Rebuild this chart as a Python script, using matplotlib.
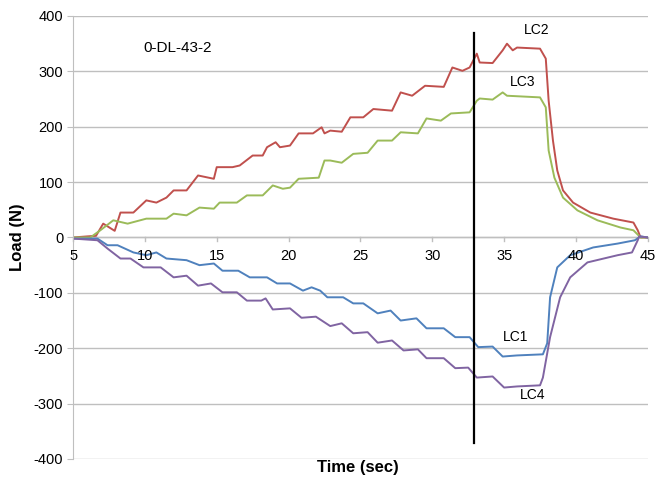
import matplotlib.pyplot as plt

plt.rcParams['axes.unicode_minus'] = False

# LC2 (red)
lc2_t = [5.0, 6.0, 6.6, 7.1, 7.9, 8.3, 9.2, 10.1, 10.8, 11.5, 12.0, 12.9, 13.7, 14.8, 15.0,
         16.1, 16.6, 17.5, 18.2, 18.5, 19.1, 19.4, 20.1, 20.7, 21.7, 22.3, 22.5, 22.9, 23.7,
         24.3, 25.2, 25.9, 27.2, 27.8, 28.6, 29.5, 30.8, 31.4, 32.1, 32.6, 33.1, 33.3, 34.2,
         34.9, 35.2, 35.6, 35.9, 37.5, 37.9, 38.1, 38.4, 38.7, 39.1, 39.8, 41.0, 42.6, 44.0,
         44.3, 44.5, 45.0]
lc2_v = [0, 2, 3, 25, 12, 45, 45, 67, 63, 72, 85, 85, 112, 106, 127,
         127, 130, 148, 148, 163, 172, 163, 166, 188, 188, 199, 188, 193, 191,
         217, 217, 232, 229, 262, 256, 274, 272, 307, 301, 307, 332, 316, 315,
         338, 350, 338, 343, 341, 323, 247, 175, 121, 85, 63, 45, 34, 27,
         13, 0, 0]

# LC3 (green)
lc3_t = [5.0, 6.2, 6.9, 7.8, 8.8, 10.1, 11.5, 12.0, 12.9, 13.8, 14.8, 15.2, 16.4, 17.1,
         18.2, 18.9, 19.6, 20.1, 20.7, 22.1, 22.5, 22.9, 23.7, 24.5, 25.5, 26.2, 27.2, 27.8,
         29.0, 29.6, 30.6, 31.3, 32.6, 33.1, 33.3, 34.2, 34.9, 35.2, 37.5, 37.9, 38.1, 38.5,
         39.1, 40.1, 41.5, 43.1, 44.0, 44.5, 45.0]
lc3_v = [0, 0, 13, 31, 25, 34, 34, 43, 40, 54, 52, 63, 63, 76,
         76, 94, 88, 90, 106, 108, 139, 139, 135, 151, 153, 175, 175, 190,
         188, 215, 211, 224, 226, 247, 251, 249, 262, 256, 253, 235, 157, 108,
         72, 49, 31, 18, 13, 0, 0]

# LC1 (blue)
lc1_t = [5.0, 6.7, 7.4, 8.1, 9.2, 10.1, 10.8, 11.5, 12.9, 13.8, 14.8, 15.4, 16.5, 17.3,
         18.5, 19.2, 20.1, 21.0, 21.6, 22.2, 22.7, 23.8, 24.5, 25.2, 26.2, 27.1, 27.8, 28.9,
         29.6, 30.8, 31.6, 32.6, 33.2, 34.2, 34.9, 35.9, 37.7, 38.0, 38.2, 38.7, 39.6, 41.2,
         42.9, 44.1, 44.5, 45.0]
lc1_v = [-2, -2, -14, -14, -27, -32, -27, -38, -41, -50, -47, -60, -60, -72,
         -72, -83, -83, -96, -90, -96, -108, -108, -119, -119, -137, -132, -150, -146,
         -164, -164, -180, -180, -198, -197, -215, -213, -211, -191, -108, -54, -32, -18,
         -11, -5, 2, 0]

# LC4 (purple)
lc4_t = [5.0, 6.7, 7.4, 8.3, 9.0, 9.9, 11.1, 12.0, 12.9, 13.7, 14.6, 15.4, 16.4, 17.1,
         18.1, 18.4, 18.9, 20.1, 20.9, 21.9, 22.9, 23.7, 24.5, 25.5, 26.2, 27.2, 28.0, 29.0,
         29.6, 30.8, 31.6, 32.5, 33.1, 34.2, 35.0, 35.9, 37.5, 37.7, 38.2, 38.9, 39.6, 40.8,
         42.9, 43.9, 44.3, 44.4, 45.0]
lc4_v = [-2, -5, -20, -38, -38, -54, -54, -72, -69, -87, -83, -99, -99, -114,
         -114, -110, -130, -128, -145, -143, -160, -155, -173, -171, -190, -186, -204, -202,
         -218, -218, -236, -235, -253, -251, -271, -269, -267, -253, -180, -108, -72, -45,
         -32, -27, -5, 2, 0]

t_event = 32.9
x_ticks = [5, 10, 15, 20, 25, 30, 35, 40, 45]
y_ticks = [-400, -300, -200, -100, 0, 100, 200, 300, 400]

fig = plt.figure(figsize=(6.55, 4.86), dpi=100)
ax = fig.add_axes([0.1115, 0.0556, 0.8775, 0.9115])

grid_col = '#BFBFBF'
for yv in y_ticks:
    ax.axhline(yv, color=grid_col, lw=1.0, zorder=0)

ax.plot(lc2_t, lc2_v, color='#C0504D', lw=1.4)
ax.plot(lc3_t, lc3_v, color='#9BBB59', lw=1.4)
ax.plot(lc1_t, lc1_v, color='#4F81BD', lw=1.4)
ax.plot(lc4_t, lc4_v, color='#8064A2', lw=1.4)

ax.plot([t_event, t_event], [-372, 370], color='black', lw=1.6)

ax.set_xlim(5, 45)
ax.set_ylim(-400, 400)

for s in ['top', 'right', 'bottom']:
    ax.spines[s].set_visible(False)
ax.spines['left'].set_color(grid_col)

# x axis crosses at zero
ax.axhline(0, color=grid_col, lw=1.0, zorder=1)
ax.set_xticks([])
for xv in x_ticks:
    ax.plot([xv, xv], [0, -7], color=grid_col, lw=1.0, clip_on=False, zorder=1)
    ax.text(xv, -20, str(xv), ha='center', va='top', fontsize=10.5,
            family='Liberation Sans')

ax.set_yticks(y_ticks)
ax.tick_params(axis='y', length=4, color=grid_col, labelsize=10.5, pad=3)
for lab in ax.get_yticklabels():
    lab.set_family('Liberation Sans')

ax.set_ylabel('Load (N)', fontsize=12, fontweight='bold', family='Liberation Sans',
              labelpad=6)
fig.text(0.547, 0.038, 'Time (sec)', ha='center', va='center', fontsize=12,
         fontweight='bold', family='Liberation Sans')

ax.text(12.25, 343, '0-DL-43-2', ha='center', va='center', fontsize=11,
        family='Liberation Sans')
ax.text(37.3, 375, 'LC2', ha='center', va='center', fontsize=10, family='Liberation Sans')
ax.text(36.3, 280, 'LC3', ha='center', va='center', fontsize=10, family='Liberation Sans')
ax.text(35.8, -180, 'LC1', ha='center', va='center', fontsize=10, family='Liberation Sans')
ax.text(37.0, -285, 'LC4', ha='center', va='center', fontsize=10, family='Liberation Sans')

fig.savefig('out.png', dpi=100)
